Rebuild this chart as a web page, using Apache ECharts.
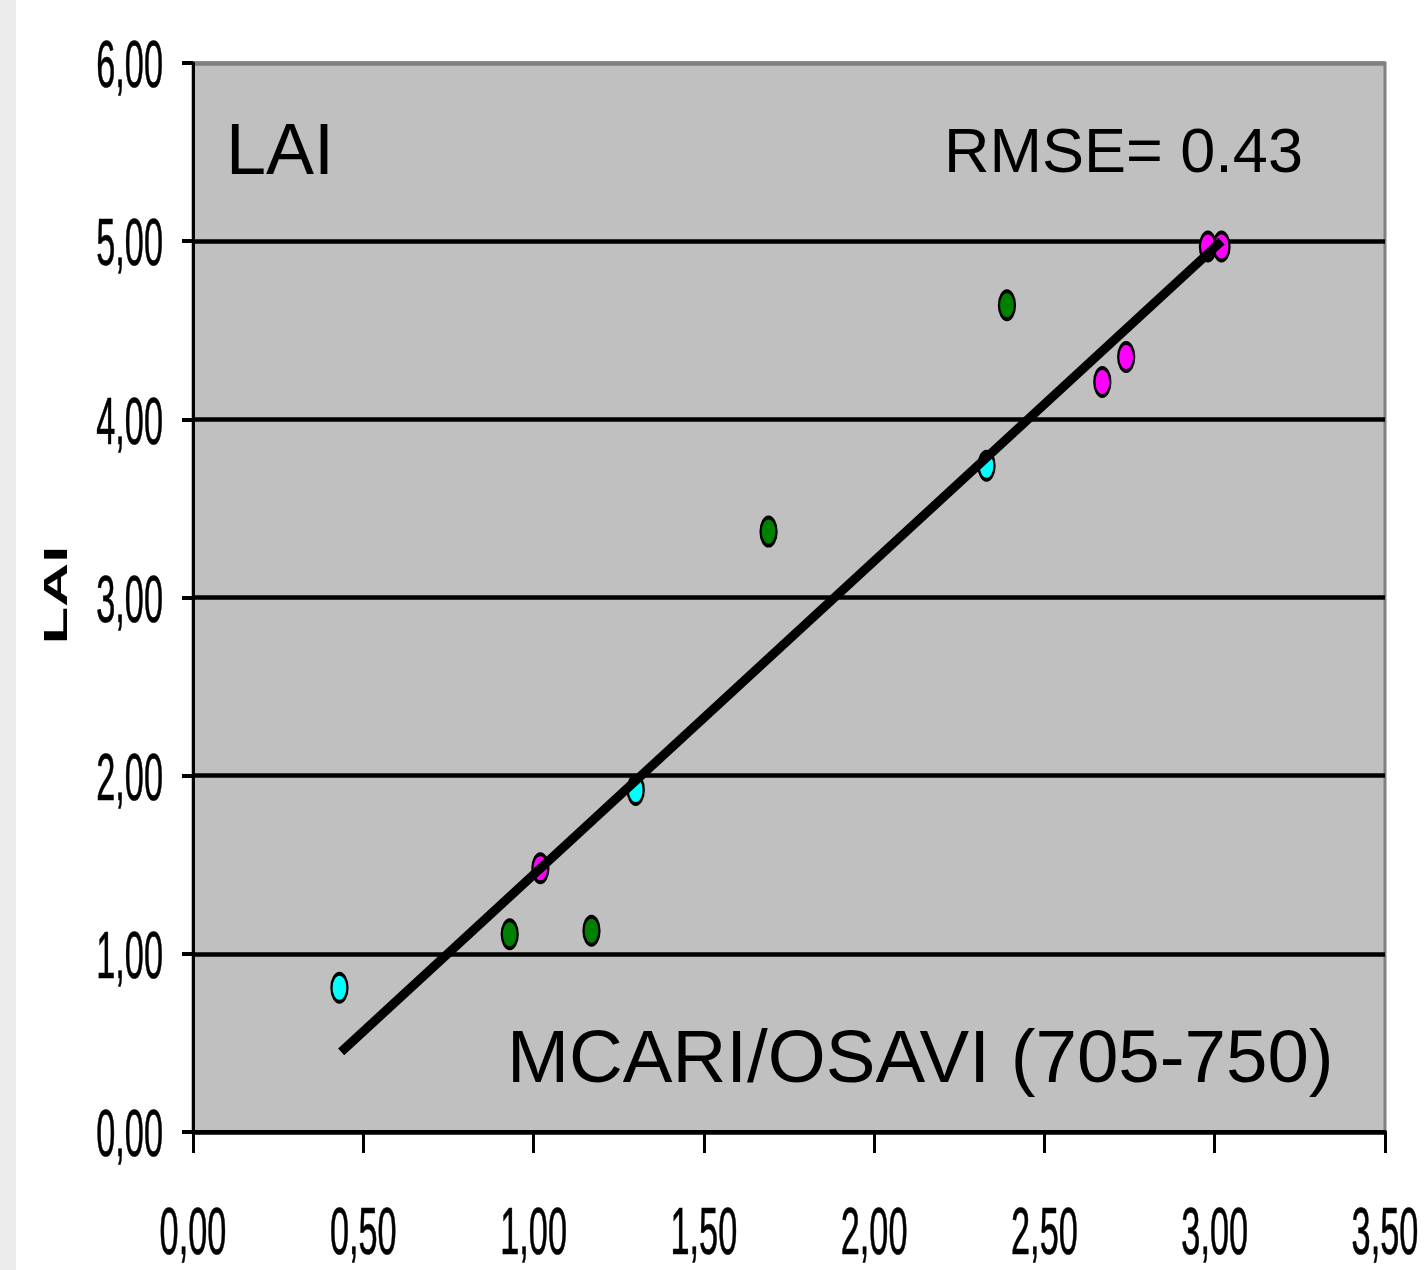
<!DOCTYPE html>
<html>
<head>
<meta charset="utf-8">
<script src="https://cdn.jsdelivr.net/npm/echarts@6/dist/echarts.min.js"></script>
<style>
  html, body { margin: 0; padding: 0; background: #fff; }
  #chart { width: 1427px; height: 1270px; }
</style>
</head>
<body>
<div id="chart"></div>
<script>
// MCARI/OSAVI vs LAI, grouped by marker colour
const cyanPts = [[0.43, 0.81], [1.30, 1.92], [2.33, 3.74]];
const greenPts = [[0.93, 1.11], [1.17, 1.13], [1.69, 3.37], [2.39, 4.64]];
const magentaPts = [[1.02, 1.48], [2.67, 4.21], [2.74, 4.35], [2.98, 4.97], [3.02, 4.97]];
// fitted line end points
const trendLine = [[0.435, 0.45], [3.02, 5.0]];
const xTicks = [0, 0.5, 1, 1.5, 2, 2.5, 3, 3.5];
const yTicks = [0, 1, 2, 3, 4, 5, 6];
const rmseText = "RMSE= 0.43";

const comma = v => v.toFixed(2).replace(".", ",");
const sans = "'Liberation Sans', Arial, sans-serif";

let myChart = echarts.init(document.getElementById("chart"));

function pointSeries(data, color) {
  return {
    type: "scatter",
    data: data,
    symbol: "circle",
    symbolSize: [16, 28],
    itemStyle: { color: color, borderColor: "#000", borderWidth: 3, opacity: 1 },
    z: 3
  };
}

myChart.setOption({
  animation: false,
  grid: {
    left: 193,
    right: 42,
    top: 63,
    bottom: 138,
    containLabel: false,
    outerBoundsMode: "none",
    show: true,
    backgroundColor: "#c0c0c0",
    borderColor: "#808080",
    borderWidth: 3
  },
  xAxis: {
    type: "value",
    min: 0,
    max: 3.5,
    interval: 0.5,
    axisLine: { lineStyle: { color: "#000", width: 4 } },
    axisTick: { inside: false, length: 21, lineStyle: { color: "#000", width: 3 } },
    splitLine: { show: false },
    axisLabel: { show: false }
  },
  yAxis: {
    type: "value",
    min: 0,
    max: 6,
    interval: 1,
    axisLine: { lineStyle: { color: "#000", width: 3 } },
    axisTick: { inside: false, length: 11, lineStyle: { color: "#000", width: 4 } },
    splitLine: {
      lineStyle: {
        color: ["#000", "#000", "#000", "#000", "#000", "#000", "#808080"],
        width: 4.5
      }
    },
    axisLabel: { show: false }
  },
  series: [
    pointSeries(cyanPts, "#00ffff"),
    pointSeries(greenPts, "#008000"),
    pointSeries(magentaPts, "#ff00ff"),
    {
      type: "line",
      data: trendLine,
      symbol: "none",
      lineStyle: { color: "#000", width: 9 },
      z: 4
    }
  ]
});

// tall, narrow tick labels placed with the chart's own scales
const labels = [];
xTicks.forEach(v => {
  const p = myChart.convertToPixel({ gridIndex: 0 }, [v, 0]);
  labels.push({
    type: "text", x: p[0], y: 1236, scaleX: 0.52,
    style: { text: comma(v), font: "66px " + sans, fill: "#000", align: "center", verticalAlign: "middle",
             stroke: "#000", lineWidth: 0.7 },
    silent: true
  });
});
yTicks.forEach(v => {
  const p = myChart.convertToPixel({ gridIndex: 0 }, [0, v]);
  labels.push({
    type: "text", x: 163, y: p[1] + 6, scaleX: 0.52,
    style: { text: comma(v), font: "66px " + sans, fill: "#000", align: "right", verticalAlign: "middle",
             stroke: "#000", lineWidth: 0.7 },
    silent: true
  });
});

myChart.setOption({
  graphic: [
    { type: "rect", left: 0, top: 0, shape: { width: 16, height: 1270 }, style: { fill: "#ececec" }, z: -1 },
    {
      type: "text", x: 58, y: 595, rotation: Math.PI / 2, scaleX: 1.8,
      style: { text: "LAI", font: "bold 34px " + sans, fill: "#000", align: "center", verticalAlign: "middle" }
    },
    { type: "text", left: 226, top: 118, style: { text: "LAI", font: "72px " + sans, fill: "#000" }, z: 10 },
    { type: "text", left: 944, top: 123, style: { text: rmseText, font: "63px " + sans, fill: "#000" }, z: 10 },
    { type: "text", left: 507, top: 1024, style: { text: "MCARI/OSAVI (705-750)", font: "74.5px " + sans, fill: "#000" }, z: 10 }
  ].concat(labels)
});

window.addEventListener("resize", function() {
  myChart.resize();
});
</script>
</body>
</html>
